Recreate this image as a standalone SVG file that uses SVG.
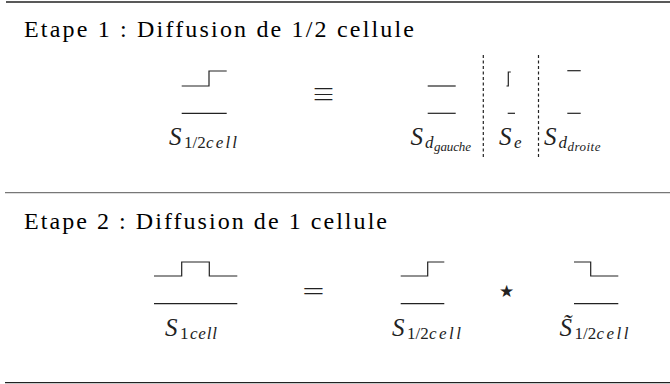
<svg xmlns="http://www.w3.org/2000/svg" width="670" height="384" viewBox="0 0 670 384">
<style>
.sig{fill:none;stroke:#222;stroke-width:1.2}
.rule{stroke:#222;stroke-width:1.3}
.rule2{stroke:#777;stroke-width:1.3}
.dash{stroke:#222;stroke-width:1.2;stroke-dasharray:3 2.5}
.title{font-family:"Liberation Serif",serif;font-size:24px;fill:#000}
.m{font-family:"Liberation Serif",serif;font-style:italic;font-size:25px;fill:#222}
.s{font-family:"Liberation Serif",serif;font-size:17px;fill:#222}
.si{font-family:"Liberation Serif",serif;font-style:italic;font-size:17px;fill:#222}
.ss{font-family:"Liberation Serif",serif;font-style:italic;font-size:13px;fill:#222}
.op{font-family:"DejaVu Sans",sans-serif;font-weight:200;font-size:29px;fill:#222;text-anchor:middle}
.eq3{font-family:"Noto Sans CJK SC","DejaVu Sans",sans-serif;font-weight:300;font-size:24px;fill:#222;text-anchor:middle}
.star{font-family:"DejaVu Sans",sans-serif;font-size:17px;fill:#222;text-anchor:middle}
</style>
<rect width="670" height="384" fill="#fff"/>
<g id="rules">
<line class="rule" x1="6" y1="2" x2="670" y2="2"/>
<line class="rule2" x1="5" y1="192.7" x2="670" y2="192.7"/>
<line class="rule" x1="5" y1="382.7" x2="670" y2="382.7"/>
</g>
<g id="titles">
<text class="title" x="24" y="36.5" textLength="390" lengthAdjust="spacing">Etape 1 : Diffusion de 1/2 cellule</text>
<text class="title" x="24" y="228.5" textLength="363" lengthAdjust="spacing">Etape 2 : Diffusion de 1 cellule</text>
</g>
<g id="connectors">
<line class="dash" x1="483.3" y1="55" x2="483.3" y2="157"/>
<line class="dash" x1="538.5" y1="55" x2="538.5" y2="157"/>
</g>
<g id="s1-half">
<polyline class="sig" points="181.7,86 209,86 209,71 226.7,71"/>
<line class="sig" x1="181.7" y1="113.3" x2="226.7" y2="113.3"/>
<text class="m" x="169" y="144.5">S</text>
<text class="s" x="184" y="147.5">1/2</text>
<text class="si" x="206" y="147.5" textLength="31" lengthAdjust="spacing">cell</text>
</g>
<g id="equiv"><text class="eq3" x="323.5" y="103">≡</text></g>
<g id="s-dgauche">
<line class="sig" x1="427.7" y1="86" x2="455.7" y2="86"/>
<line class="sig" x1="427.7" y1="113.3" x2="455.7" y2="113.3"/>
<text class="m" x="410.5" y="144.5">S</text>
<text class="si" x="425" y="147.5">d</text>
<text class="ss" x="434" y="150.5" textLength="37" lengthAdjust="spacing">gauche</text>
</g>
<g id="s-e">
<polyline class="sig" points="506.5,86 508.3,86 508.3,72 510.8,72"/>
<line class="sig" x1="507.7" y1="113.3" x2="515" y2="113.3"/>
<text class="m" x="499" y="144.5">S</text>
<text class="si" x="514" y="147.5">e</text>
</g>
<g id="s-ddroite">
<line class="sig" x1="567.3" y1="70.7" x2="580.7" y2="70.7"/>
<line class="sig" x1="567.3" y1="113.3" x2="580.7" y2="113.3"/>
<text class="m" x="544" y="144.5">S</text>
<text class="si" x="558.5" y="147.5">d</text>
<text class="ss" x="567.5" y="150.5" textLength="33" lengthAdjust="spacing">droite</text>
</g>
<g id="s-1cell">
<polyline class="sig" points="154,276 181.7,276 181.7,262 209.3,262 209.3,276 237.3,276"/>
<line class="sig" x1="154" y1="303.7" x2="237.3" y2="303.7"/>
<text class="m" x="165" y="336">S</text>
<text class="s" x="180" y="339">1</text>
<text class="si" x="190" y="339" textLength="27" lengthAdjust="spacing">cell</text>
</g>
<g id="equals"><text class="op" x="313.3" y="300">=</text></g>
<g id="s-half-2">
<polyline class="sig" points="400.7,276 427.7,276 427.7,262 444.3,262"/>
<line class="sig" x1="400.7" y1="303.7" x2="444.3" y2="303.7"/>
<text class="m" x="392" y="336">S</text>
<text class="s" x="407" y="339">1/2</text>
<text class="si" x="429" y="339" textLength="32" lengthAdjust="spacing">cell</text>
</g>
<g id="star"><text class="star" x="506.7" y="297">★</text></g>
<g id="s-tilde">
<polyline class="sig" points="574,262 590.7,262 590.7,276 618.3,276"/>
<line class="sig" x1="574" y1="303.7" x2="618.3" y2="303.7"/>
<text class="m" x="559.5" y="336">S̃</text>
<text class="s" x="574.5" y="339">1/2</text>
<text class="si" x="596.5" y="339" textLength="32" lengthAdjust="spacing">cell</text>
</g>
</svg>
